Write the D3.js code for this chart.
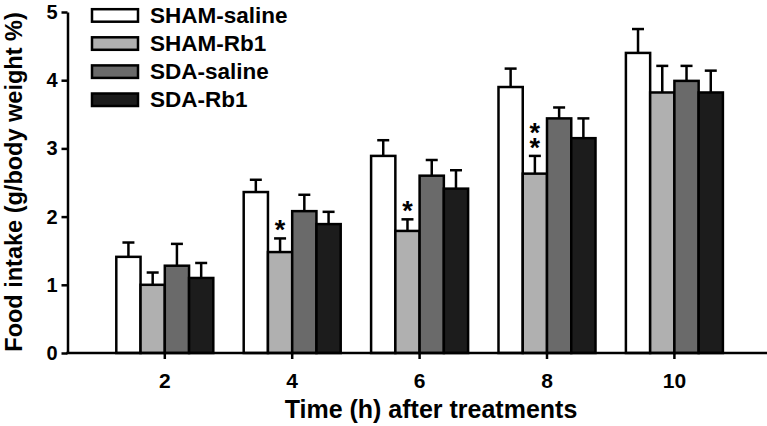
<!DOCTYPE html>
<html>
<head>
<meta charset="utf-8">
<script src="https://cdn.jsdelivr.net/npm/d3@7"></script>
<style>
  html, body { margin: 0; padding: 0; background: #fff; }
  svg { display: block; }
  text { font-family: "Liberation Sans", Arial, sans-serif; font-weight: bold; fill: #000; }
</style>
</head>
<body>
<svg id="chart" width="767" height="426"></svg>
<script>
const categories = ["2", "4", "6", "8", "10"];
const seriesNames = ["SHAM-saline", "SHAM-Rb1", "SDA-saline", "SDA-Rb1"];
const seriesColors = ["#ffffff", "#b0b0b0", "#6a6a6a", "#1c1c1c"];

const shamSaline    = [1.41, 2.36, 2.89, 3.90, 4.40];
const shamSalineErr = [0.21, 0.18, 0.23, 0.27, 0.35];
const shamRb1       = [1.00, 1.48, 1.79, 2.63, 3.82];
const shamRb1Err    = [0.18, 0.20, 0.17, 0.26, 0.39];
const sdaSaline     = [1.28, 2.08, 2.60, 3.44, 3.99];
const sdaSalineErr  = [0.32, 0.24, 0.23, 0.16, 0.22];
const sdaRb1        = [1.10, 1.89, 2.41, 3.15, 3.82];
const sdaRb1Err     = [0.22, 0.18, 0.27, 0.29, 0.32];

const shamRb1Stars  = [0, 1, 1, 2, 0];
const yTicks = [0, 1, 2, 3, 4, 5];

const values = [shamSaline, shamRb1, sdaSaline, sdaRb1];
const errors = [shamSalineErr, shamRb1Err, sdaSalineErr, sdaRb1Err];

const data = [];
categories.forEach((c, i) => {
  seriesNames.forEach((s, j) => {
    data.push({ cat: c, series: s, value: values[j][i], err: errors[j][i], color: seriesColors[j] });
  });
});

const svg = d3.select("#chart");

const y = d3.scaleLinear().domain([0, 5]).range([353, 12]);
const x = d3.scaleBand().domain(categories).range([116.3, 722.9]).paddingInner(0.2386).paddingOuter(0);
const xs = d3.scaleBand().domain(seriesNames).range([0, x.bandwidth()]).padding(0);

// bars
svg.append("g").selectAll("rect").data(data).join("rect")
  .attr("x", d => x(d.cat) + xs(d.series))
  .attr("y", d => y(d.value))
  .attr("width", xs.bandwidth())
  .attr("height", d => y(0) - y(d.value))
  .attr("fill", d => d.color)
  .attr("stroke", "#000")
  .attr("stroke-width", 2.5);

// error bars
const eg = svg.append("g").attr("stroke", "#000").attr("stroke-width", 2.5);
data.forEach(d => {
  const cx = x(d.cat) + xs(d.series) + xs.bandwidth() / 2;
  eg.append("line").attr("x1", cx).attr("x2", cx).attr("y1", y(d.value)).attr("y2", y(d.value + d.err));
  eg.append("line").attr("x1", cx - 6).attr("x2", cx + 6).attr("y1", y(d.value + d.err)).attr("y2", y(d.value + d.err));
});

// significance stars: one text element, per-glyph positions
categories.forEach((c, i) => {
  const n = shamRb1Stars[i];
  if (!n) return;
  const cx = x(c) + xs("SHAM-Rb1") + xs.bandwidth() / 2;
  const top = y(shamRb1[i] + shamRb1Err[i]);
  const xsList = [], ysList = [];
  for (let k = 0; k < n; k++) {
    xsList.push(cx);
    ysList.push(top + 1 - (n - 1 - k) * 15);
  }
  svg.append("text")
    .attr("x", xsList.join(" "))
    .attr("y", ysList.join(" "))
    .attr("text-anchor", "middle")
    .style("font-size", "27px")
    .text("*".repeat(n));
});

// y axis
const yAxis = svg.append("g").attr("transform", "translate(67.5,0)")
  .call(d3.axisLeft(y).tickValues(yTicks).tickFormat(d3.format("d")).tickSize(6).tickSizeOuter(0).tickPadding(4));
yAxis.selectAll("path, line").attr("stroke", "#000").attr("stroke-width", 2.5);
yAxis.selectAll("text").style("font-size", "20px").attr("font-family", null);

// x axis
const xAxis = svg.append("g").attr("transform", "translate(0,353)")
  .call(d3.axisBottom(x).tickSize(6).tickSizeOuter(0).tickPadding(14));
xAxis.select(".domain").remove();
xAxis.selectAll("line").attr("stroke", "#000").attr("stroke-width", 2.5);
xAxis.selectAll("text").style("font-size", "21px").attr("font-family", null);
svg.append("line").attr("x1", 66.3).attr("x2", 767).attr("y1", y(0)).attr("y2", y(0))
  .attr("stroke", "#000").attr("stroke-width", 2.5);

// axis titles
svg.append("text")
  .attr("x", 431).attr("y", 418)
  .attr("text-anchor", "middle")
  .style("font-size", "25px")
  .text("Time (h) after treatments");

svg.append("text")
  .attr("transform", "translate(22,182) rotate(-90)")
  .attr("text-anchor", "middle")
  .style("font-size", "23.5px")
  .text("Food intake (g/body weight %)");

// legend
const legend = svg.append("g");
seriesNames.forEach((s, j) => {
  const base = 22.7 + j * 28.1;
  legend.append("rect")
    .attr("x", 92).attr("y", base - 13.5)
    .attr("width", 46).attr("height", 12.5)
    .attr("fill", seriesColors[j]).attr("stroke", "#000").attr("stroke-width", 2.5);
  legend.append("text")
    .attr("x", 150).attr("y", base)
    .style("font-size", "22.5px")
    .text(s);
});
</script>
</body>
</html>
